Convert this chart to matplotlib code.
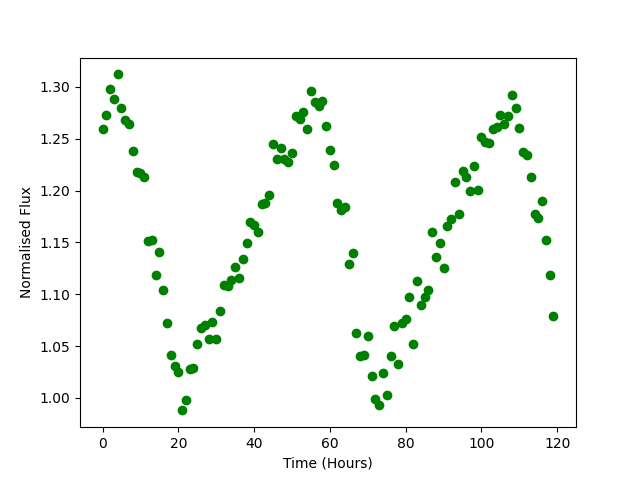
import numpy as np
import matplotlib
matplotlib.use("Agg")
import matplotlib.pyplot as plt

time_hours = list(range(120))
flux = [
    1.259, 1.273, 1.298, 1.288, 1.312, 1.280, 1.268, 1.264, 1.238, 1.218,
    1.217, 1.213, 1.151, 1.152, 1.119, 1.141, 1.104, 1.072, 1.041, 1.031,
    1.025, 0.988, 0.998, 1.028, 1.029, 1.052, 1.067, 1.070, 1.057, 1.073,
    1.057, 1.084, 1.109, 1.108, 1.114, 1.126, 1.116, 1.134, 1.149, 1.170,
    1.167, 1.160, 1.187, 1.188, 1.196, 1.245, 1.230, 1.241, 1.230, 1.228,
    1.236, 1.272, 1.269, 1.276, 1.259, 1.296, 1.285, 1.282, 1.286, 1.262,
    1.239, 1.225, 1.188, 1.181, 1.184, 1.129, 1.140, 1.063, 1.040, 1.041,
    1.060, 1.021, 0.999, 0.993, 1.024, 1.003, 1.040, 1.069, 1.033, 1.072,
    1.076, 1.097, 1.052, 1.113, 1.090, 1.097, 1.104, 1.160, 1.136, 1.149,
    1.125, 1.166, 1.173, 1.208, 1.177, 1.219, 1.213, 1.200, 1.224, 1.201,
    1.252, 1.247, 1.246, 1.259, 1.261, 1.273, 1.264, 1.272, 1.292, 1.280,
    1.260, 1.237, 1.234, 1.213, 1.177, 1.174, 1.190, 1.152, 1.119, 1.079,
]

fig, ax = plt.subplots(figsize=(6.4, 4.8), dpi=100)
ax.plot(time_hours, flux, 'o', color='green')
ax.set_xlabel('Time (Hours)')
ax.set_ylabel('Normalised Flux')
fig.savefig('out.png')
